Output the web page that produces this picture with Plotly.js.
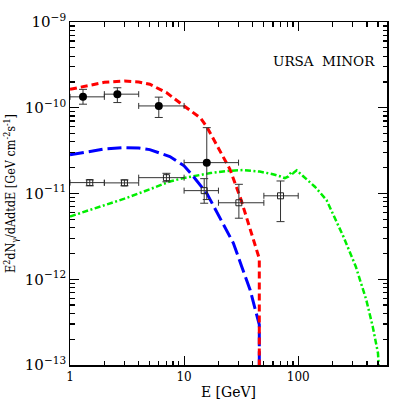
<!DOCTYPE html>
<html>
<head>
<meta charset="utf-8">
<script src="https://cdn.plot.ly/plotly-3.0.1.min.js"></script>
<style>
  body { margin: 0; background: #fff; }
  #chart { width: 409px; height: 409px; }
</style>
</head>
<body>
<div id="chart"></div>
<script>
// model curves, E in GeV, flux in GeV cm^-2 s^-1
var redE    = [1, 1.5, 2, 3, 4, 5, 7, 10, 13.9, 15.8, 18.7, 25.3, 31.6, 39.2, 45.6, 45.6];
var redFlux = [1.64e-10, 1.85e-10, 1.98e-10, 2.05e-10, 2.0e-10, 1.88e-10, 1.5e-10, 1.05e-10,
               7.6e-11, 6.0e-11, 4.0e-11, 1.9e-11, 8.4e-12, 3.44e-12, 1.74e-12, 9e-14];

var blueE    = [1, 1.5, 2, 3, 4, 5, 7.5, 10, 12.1, 15.85, 20, 27, 31.9, 37.9, 45.6, 45.6];
var blueFlux = [2.82e-11, 3.1e-11, 3.3e-11, 3.43e-11, 3.4e-11, 3.25e-11, 2.7e-11, 2.1e-11,
                1.57e-11, 1.0e-11, 5.6e-12, 2.64e-12, 1.42e-12, 7.5e-13, 2.95e-13, 9e-14];

var greenE    = [1, 2, 3, 5, 7.5, 10, 14, 17, 25, 33, 46, 60, 70, 76.5, 82, 87.5, 90, 97,
                 110, 140, 177, 250, 320, 395, 450, 500, 510];
var greenFlux = [5.4e-12, 7.3e-12, 8.7e-12, 1.12e-11, 1.38e-11, 1.52e-11, 1.65e-11, 1.73e-11,
                 1.84e-11, 1.88e-11, 1.8e-11, 1.68e-11, 1.58e-11, 1.51e-11, 1.58e-11, 1.8e-11,
                 1.72e-11, 1.86e-11, 1.6e-11, 1.2e-11, 8.4e-12, 3.1e-12, 1.4e-12, 5.75e-13,
                 2.8e-13, 1.38e-13, 9e-14];

// filled circles
var fillE      = [1.3, 2.6, 6.0, 15.8];
var fillFlux   = [1.34e-10, 1.44e-10, 1.05e-10, 2.29e-11];
var fillElo    = [1, 2, 4, 10];
var fillEhi    = [2, 4, 10, 30];
var fillLo     = [1.10e-10, 1.15e-10, 7.7e-11, 8.5e-12];
var fillHi     = [1.64e-10, 1.71e-10, 1.33e-10, 5.86e-11];

// open squares
var openE      = [1.49, 3.0, 7.0, 15.0, 30.2, 70];
var openFlux   = [1.34e-11, 1.33e-11, 1.53e-11, 1.08e-11, 7.8e-12, 9.4e-12];
var openElo    = [1, 2, 4, 10, 20, 50];
var openEhi    = [2, 4, 10, 20, 50, 100];
var openLo     = [1.23e-11, 1.23e-11, 1.37e-11, 7.7e-12, 5.15e-12, 4.7e-12];
var openHi     = [1.44e-11, 1.44e-11, 1.72e-11, 1.49e-11, 1.28e-11, 1.40e-11];

function diff(a, b) { return a.map((v, i) => v - b[i]); }

var errColor = "#333";

var traces = [
  {x: greenE, y: greenFlux, mode: "lines", type: "scatter",
   line: {color: "#00ee00", width: 2.5, dash: "6px,2.5px,2px,2.5px"}},
  {x: blueE, y: blueFlux, mode: "lines", type: "scatter",
   line: {color: "#0000ff", width: 3, dash: "14px,5px"}},
  {x: redE, y: redFlux, mode: "lines", type: "scatter",
   line: {color: "#ff0000", width: 3, dash: "7px,4px"}},
  {x: fillE, y: fillFlux, mode: "markers", type: "scatter",
   marker: {symbol: "circle", size: 8, color: "#000"},
   error_x: {type: "data", symmetric: false, array: diff(fillEhi, fillE), arrayminus: diff(fillE, fillElo),
             color: errColor, thickness: 1, width: 3},
   error_y: {type: "data", symmetric: false, array: diff(fillHi, fillFlux), arrayminus: diff(fillFlux, fillLo),
             color: errColor, thickness: 1, width: 4}},
  {x: openE, y: openFlux, mode: "markers", type: "scatter",
   marker: {symbol: "square-open", size: 6, color: "#222", line: {width: 1}},
   error_x: {type: "data", symmetric: false, array: diff(openEhi, openE), arrayminus: diff(openE, openElo),
             color: errColor, thickness: 1, width: 3},
   error_y: {type: "data", symmetric: false, array: diff(openHi, openFlux), arrayminus: diff(openFlux, openLo),
             color: errColor, thickness: 1, width: 4}}
];

var axisCommon = {
  type: "log", showgrid: false, zeroline: false,
  showline: true, linecolor: "#000", linewidth: 1.5, mirror: "ticks",
  ticks: "inside", ticklen: 9, tickwidth: 1.2, tickcolor: "#000", dtick: 1,
  minor: {ticks: "inside", ticklen: 4.5, tickwidth: 1.2, tickcolor: "#000", showgrid: false, dtick: "D1"},
  tickfont: {family: "DejaVu Serif", size: 12, color: "#000"}
};

var layout = {
  width: 409, height: 409,
  margin: {l: 70, r: 22, t: 22, b: 44},
  paper_bgcolor: "#fff", plot_bgcolor: "#fff",
  showlegend: false,
  font: {family: "DejaVu Serif", color: "#000"},
  xaxis: Object.assign({}, axisCommon, {
    range: [0, Math.log10(600)],
    title: {text: "E [GeV]", font: {family: "DejaVu Serif", size: 14}, standoff: 4}
  }),
  yaxis: Object.assign({}, axisCommon, {
    range: [-13, -9],
    exponentformat: "power",
    title: {text: "E<sup>2</sup>dN<sub>γ</sub>/dAdtdE [GeV cm<sup>-2</sup>s<sup>-1</sup>]",
            font: {family: "DejaVu Serif Condensed, DejaVu Serif", size: 12.5}, standoff: 6}
  }),
  annotations: [{
    text: "URSA  MINOR", xref: "paper", yref: "paper", x: 0.8, y: 0.886,
    xanchor: "center", yanchor: "middle",
    showarrow: false, font: {family: "DejaVu Serif", size: 13.5, color: "#000"}
  }]
};

Plotly.newPlot("chart", traces, layout, {displayModeBar: false, staticPlot: true});
</script>
</body>
</html>
